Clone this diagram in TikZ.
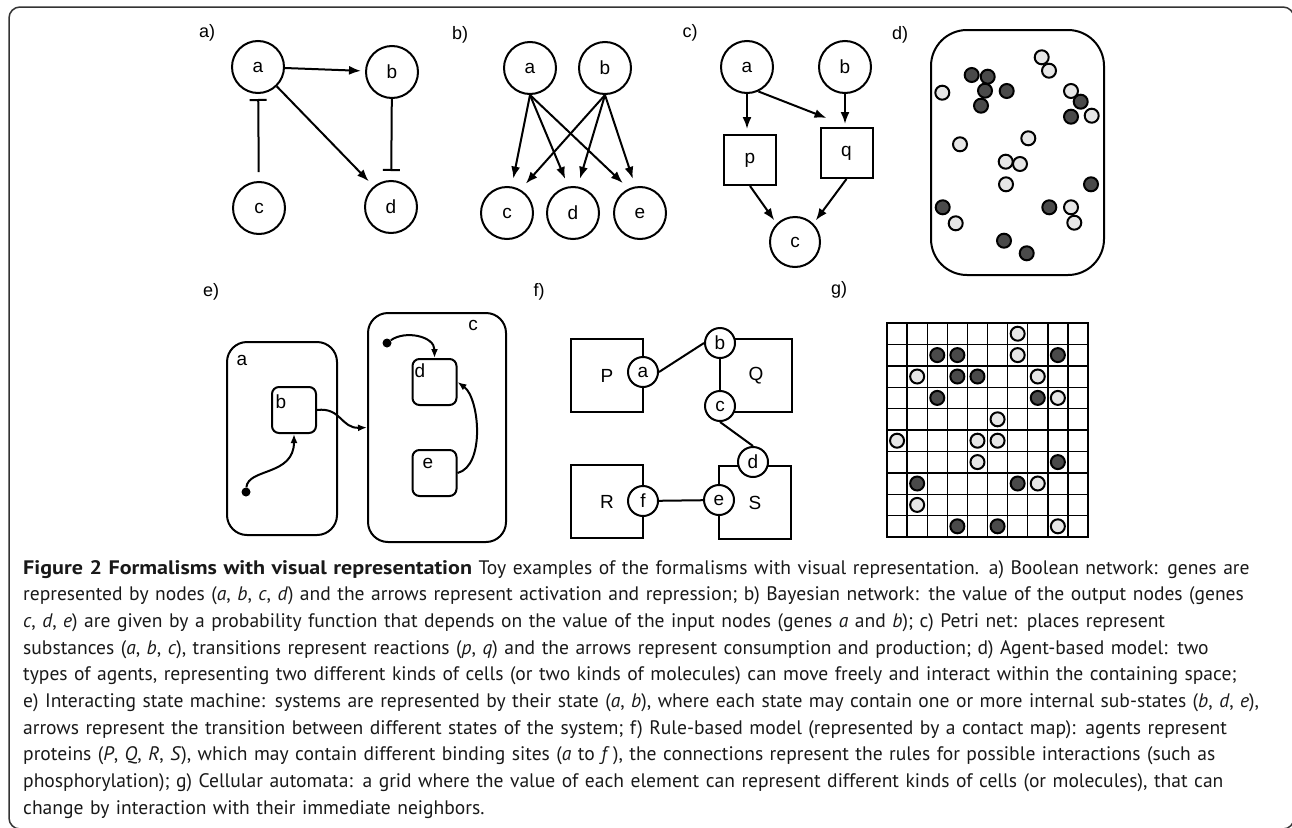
\documentclass[tikz,border=0pt]{standalone}
\usepackage{fontspec}
\setmainfont{Liberation Sans}
\newfontfamily\capfont{PT Sans}
\newfontfamily\capboldfont{PT Sans}[FakeStretch=1.13]
\usetikzlibrary{arrows.meta,calc}
\definecolor{darkdot}{HTML}{4A4A4A}
\definecolor{lightdot}{HTML}{E6E6E6}
\begin{document}
\begin{tikzpicture}[x=1pt,y=-1pt,
  every node/.style={font=\fontsize{19}{21}\selectfont},
  st/.style={circle,draw,line width=2pt,minimum size=52pt,inner sep=0pt},
  tr/.style={draw,line width=2pt,minimum width=52pt,minimum height=50pt,inner sep=0pt},
  conn/.style={line width=2pt},
  act/.style={conn,-{Latex[length=12pt,width=9pt]}},
  inh/.style={conn,-{Bar[width=17pt,line width=2pt]}},
  sarr/.style={conn,-{Latex[length=9pt,width=7pt]}},
  agentdark/.style={circle,draw,line width=2pt,fill=darkdot,minimum size=14pt,inner sep=0pt},
  agentlight/.style={circle,draw,line width=2pt,fill=lightdot,minimum size=14pt,inner sep=0pt},
  bigstate/.style={draw,line width=2pt,rounded corners=20pt,inner sep=0pt},
  substate/.style={draw,line width=2pt,rounded corners=7pt,minimum width=44pt,minimum height=46pt,inner sep=0pt},
  initdot/.style={circle,fill,inner sep=0pt,minimum size=9pt},
  protein/.style={draw,line width=2pt,minimum width=72pt,minimum height=73pt,inner sep=0pt},
  site/.style={circle,draw,fill=white,line width=2pt,minimum size=30pt,inner sep=0pt},
  panellabel/.style={font=\fontsize{18}{20}\selectfont},
  gridline/.style={line width=1.4pt},
]
\clip (0,0) rectangle (1292,827);
\fill[white] (0,0) rectangle (1292,827);
% frame
\draw[line width=1.5pt,black!80,rounded corners=11pt] (9,7) rectangle (1294,829);

% panel labels
\node[panellabel] (la) at (207,33) {a)};
\node[panellabel] (lb) at (460,35) {b)};
\node[panellabel] (lc) at (690,33) {c)};
\node[panellabel] (ld) at (900,35) {d)};
\node[panellabel] (le) at (211,292) {e)};
\node[panellabel] (lf) at (539,292) {f)};
\node[panellabel] (lg) at (839,290) {g)};

% ---- panel a
\node[st] (aa) at (258,67) {a};
\node[st] (ab) at (392,72) {b};
\node[st] (ac) at (259,208) {c};
\node[st] (ad) at (391,207) {d};
\draw[act,shorten >=4pt] (aa) -- (ab);
\draw[act,shorten >=7pt] (aa) -- (ad.130);
\draw[inh,shorten <=9pt,shorten >=5pt] (ac) -- (aa);
\draw[inh,shorten >=9pt] (ab) -- (ad);

% ---- panel b
\node[st] (ba) at (530,68) {a};
\node[st] (bb) at (605,68) {b};
\node[st] (bc) at (507,213) {c};
\node[st] (bd) at (573,213) {d};
\node[st] (be) at (640,213) {e};
\draw[act,shorten >=8pt] (ba.south) -- (bc.80);
\draw[act,shorten >=8pt] (ba.south) -- (bd.100);
\draw[act,shorten >=8pt] (ba.south) -- (be.115);
\draw[act,shorten >=8pt] (bb.south) -- (bc.60);
\draw[act,shorten >=8pt] (bb.south) -- (bd.80);
\draw[act,shorten >=8pt] (bb.south) -- (be.100);

% ---- panel c
\node[st] (ca) at (747,67) {a};
\node[st] (cb) at (845,67) {b};
\node[tr] (cp) at (750,160) {p};
\node[tr] (cq) at (846.5,153) {q};
\node[st,minimum size=50pt] (cc) at (795,242) {c};
\draw[act,shorten >=5pt] (ca.south) -- (ca.south |- cp.north);
\draw[act,shorten >=3pt] (cb.south) -- (cb.south |- cq.north);
\draw[act] (ca.-65) -- ([shift={(7,-9)}]cq.north west);
\draw[act,shorten >=4pt] (cp.south) -- (cc.135);
\draw[act,shorten >=4pt] (cq.south) -- (cc.45);

% ---- panel d
\node[draw,line width=2pt,rounded corners=36pt,minimum width=173pt,minimum height=245pt,inner sep=0pt] (dspace) at (1017.5,152.5) {};
\foreach \x/\y in {1041.7/57.3,1049/70.7,942.3/92.7,1071/91,1091.7/115.7,960/144.3,1028.3/138.3,1005.7/161.7,1020/164,1006/184.3,1071/207.3,1074.3/222.7,955.7/223.3}
  \node[agentlight] at (\x,\y) {};
\foreach \x/\y in {971.7/75,987.7/76.7,985/90.7,1006.7/91,981/105.7,1080.7/101.7,1071/116.7,1091/184.3,942.7/207.3,1049.3/207.3,1004/240.7,1026.7/253.3}
  \node[agentdark] at (\x,\y) {};

% ---- panel e
\node[bigstate,minimum width=110pt,minimum height=193pt] (ea) at (282,438.5) {};
\node[bigstate,minimum width=138pt,minimum height=229pt] (ec) at (437,427.5) {};
\node (eal) at (242,360) {a};
\node (ecl) at (473,325) {c};
\node[substate] (eb) at (294,410) {};
\node[substate] (ed) at (434.5,382) {};
\node[substate] (ee) at (434.5,473) {};
\node (ebl) at (281,402) {b};
\node (edl) at (420,371) {d};
\node (eel) at (428,463) {e};
\node[initdot] (edot1) at (246,492) {};
\node[initdot] (edot2) at (387,343) {};
\draw[sarr] (edot1) .. controls +(2,-24) and +(0,42) .. (eb.south);
\draw[sarr] (eb.east) .. controls +(24,-3) and +(-26,1) .. (ec.west);
\draw[sarr] (edot2) .. controls +(18,-13) and +(0,-22) .. (ed.north);
\draw[sarr] (ee.east) .. controls +(28,-7) and +(22,16) .. (ed.east);

% ---- panel f
\node[protein] (fP) at (607,375.5) {P};
\node[protein] (fQ) at (756,375.5) {Q};
\node[protein] (fR) at (607,501.5) {R};
\node[protein] (fS) at (755,502.5) {S};
\node[site] (sa) at (643,372) {a};
\node[site] (sb) at (720,343) {b};
\node[site] (sc) at (720,406) {c};
\node[site] (sd) at (753,462) {d};
\node[site] (se) at (719,500) {e};
\node[site] (sf) at (643,501) {f};
\draw[conn] (sa.east) -- (sb.west);
\draw[conn] (sb) -- (sc);
\draw[conn] (sc.south) -- (sd.north);
\draw[conn] (sf) -- (se);

% ---- panel g
\foreach \i in {1,...,9} {
  \draw[gridline] (887+\i*20.1,323) -- (887+\i*20.1,537);
  \draw[gridline] (887,323+\i*21.4) -- (1088,323+\i*21.4);
}
\draw[line width=2pt] (887,323) rectangle (1088,537);
\foreach \c/\r in {6/0,6/1,1/2,7/2,8/3,5/4,0/5,4/5,5/5,4/6,7/7,1/8,8/9}
  \node[agentlight] at (897.05+20.1*\c,333.7+21.4*\r) {};
\foreach \c/\r in {2/1,3/1,8/1,3/2,4/2,2/3,7/3,8/6,1/7,6/7,3/9,5/9}
  \node[agentdark] at (897.05+20.1*\c,333.7+21.4*\r) {};

% ---- caption
\node[anchor=base west,inner sep=0pt,text width=1300pt,align=left,text=black!90,
  font=\capfont\fontsize{19.55}{26.7}\selectfont] (cap) at (23,574) {%
{\capboldfont\bfseries Figure 2 Formalisms with visual representation} Toy examples of the formalisms with visual representation. a) Boolean network: genes are\\
represented by nodes (\textit{a}, \textit{b}, \textit{c}, \textit{d}) and the arrows represent activation and repression; b) Bayesian network: the value of the output nodes (genes\\
\textit{c}, \textit{d}, \textit{e}) are given by a probability function that depends on the value of the input nodes (genes \textit{a} and \textit{b}); c) Petri net: places represent\\
substances (\textit{a}, \textit{b}, \textit{c}), transitions represent reactions (\textit{p}, \textit{q}) and the arrows represent consumption and production; d) Agent-based model: two\\
types of agents, representing two different kinds of cells (or two kinds of molecules) can move freely and interact within the containing space;\\
e) Interacting state machine: systems are represented by their state (\textit{a}, \textit{b}), where each state may contain one or more internal sub-states (\textit{b}, \textit{d}, \textit{e}),\\
arrows represent the transition between different states of the system; f) Rule-based model (represented by a contact map): agents represent\\
proteins (\textit{P}, \textit{Q}, \textit{R}, \textit{S}), which may contain different binding sites (\textit{a} to \textit{f}\,), the connections represent the rules for possible interactions (such as\\
phosphorylation); g) Cellular automata: a grid where the value of each element can represent different kinds of cells (or molecules), that can\\
change by interaction with their immediate neighbors.};
\end{tikzpicture}
\end{document}
